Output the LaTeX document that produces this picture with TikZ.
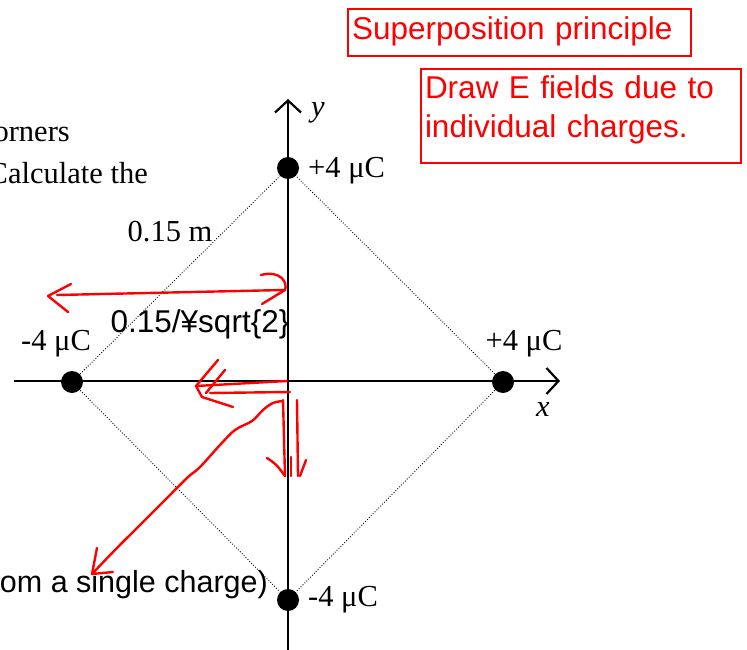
\documentclass[tikz,border=0pt]{standalone}
\usepackage{fontspec}
\setmainfont{Liberation Serif}
\newfontfamily\arialfont{Liberation Sans}
\usetikzlibrary{positioning, arrows.meta}

\begin{document}
\begin{tikzpicture}[x=1pt, y=-1pt, every node/.style={font=\fontsize{30.5}{36}\selectfont, inner sep=0pt}]
  \def\OX{288}
  \def\OY{381}
  \def\R{216}
  \tikzset{
    axis/.style={line width=2.6pt, -{Straight Barb[length=12pt, width=26pt, line width=2.2pt]}},
    charge/.style={circle, fill=black, minimum size=22pt, inner sep=0pt},
    side/.style={black, line width=0.9pt, dash pattern=on 0.9pt off 1.8pt},
    qlabel/.style={anchor=base},
    sans/.style={font=\arialfont\fontsize{31.5}{38}\selectfont},
    pen/.style={red, line width=2.4pt, line cap=round, line join=round},
    redbox/.style={draw=red, line width=2pt, text=red, align=left, inner xsep=4pt,
      font=\arialfont\fontsize{31.5}{38.3}\selectfont, anchor=north west, text height=23pt},
  }
  \useasboundingbox (0,0) rectangle (747,650);
  \clip (0,0) rectangle (747,650);

  %% ===== cut-off problem text =====
  \node[anchor=base east] (txtA) at (70,142) {corners};
  \node[anchor=base east] (txtB) at (148,183) {Calculate the};
  \node[font=\arialfont\fontsize{30.5}{36}\selectfont, anchor=base east] (txtC) at (268,592) {from a single charge)};

  %% ===== axes =====
  \draw[axis] (14,\OY) -- (560,\OY);
  \draw[axis] (\OX,655) -- (\OX,99);
  \node[anchor=base, font=\itshape\fontsize{30.5}{36}\selectfont] (ylab) at (318,117) {y};
  \node[anchor=base, font=\itshape\fontsize{30.5}{36}\selectfont] (xlab) at (543,416) {x};

  %% ===== charges on the square =====
  \node[charge] (qt) at (\OX,\OY-213) {};
  \node[charge] (ql) at (\OX-\R,\OY+1) {};
  \node[charge] (qr) at (\OX+\R-1,\OY+1) {};
  \node[charge] (qb) at (\OX,\OY+219) {};
  \draw[side] (qt.center) -- (ql.center) -- (qb.center) -- (qr.center) -- (qt.center);

  \node[anchor=base west] (lt) at (308,178) {+4 μC};
  \node[qlabel] (ll) at (56,350) {-4 μC};
  \node[qlabel] (lr) at (524,350) {+4 μC};
  \node[anchor=base west] (lb) at (308,606) {-4 μC};
  \node[qlabel] (side) at (170,241) {0.15 m};
  \node[sans, anchor=base] (half) at (200,332) {0.15/¥sqrt\{2\}};

  %% ===== red notes =====
  \node[redbox, text width=335pt, minimum height=47pt, text depth=9pt] (sup) at (347,8) {Superposition principle};
  \node[redbox, text width=312pt, minimum height=94pt, text depth=57pt] (draw) at (420,68) {Draw E fields due to\\individual charges.};

  %% ===== red freehand strokes =====
  % half diagonal
  \draw[pen] (57,295) -- (284,290);
  \draw[pen] (71,284) -- (48,296) -- (68,312);
  \draw[pen] (261,275) .. controls (280,270) and (288,282) .. (285,290) -- (262,304);
  % fields pointing left
  \draw[pen] (287,381) -- (196,386);
  \draw[pen] (218,360) -- (196,386) -- (202,397) -- (233,407);
  \draw[pen] (290,392) -- (210,393);
  \draw[pen] (225,370) -- (206,393);
  % fields pointing down
  \draw[pen] (283,400) -- (285,476);
  \draw[pen] (297,400) -- (298,476);
  \draw[pen] (267,458) .. controls (276,464) .. (285,476);
  \draw[pen] (291,457) -- (291,476);
  \draw[pen] (306,460) -- (300,476);
  % resultant
  \draw[pen] plot[smooth, tension=0.6] coordinates {(283,401) (273,403) (263,410) (252,421)
    (235,430) (220,445) (200,467) (187,478) (165,500) (140,525) (115,550) (92,574)};
  \draw[pen] (97,548) -- (92,574) -- (113,572);
\end{tikzpicture}
\end{document}
